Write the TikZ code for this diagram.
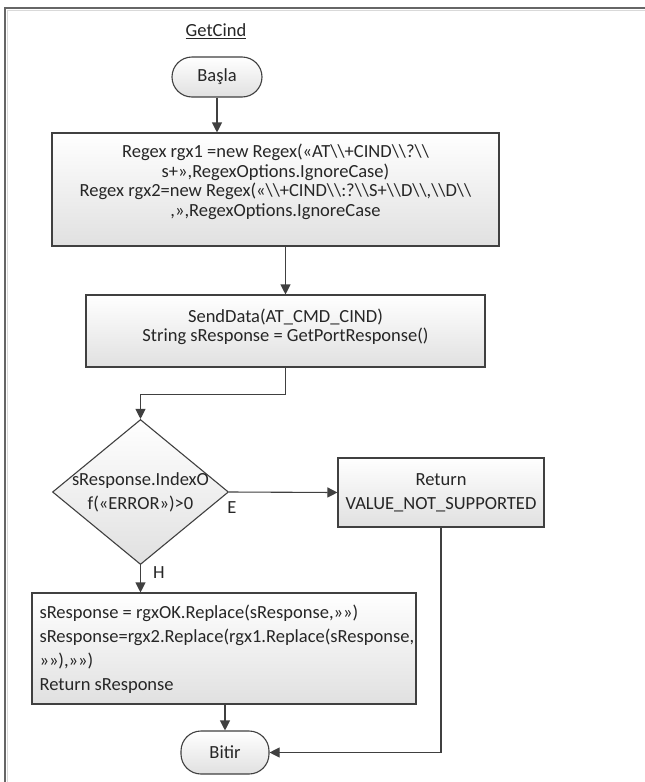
\documentclass[tikz,border=0pt]{standalone}
\usepackage{fontspec}
\setmainfont{Carlito}
\usetikzlibrary{arrows.meta,shapes.geometric}
\begin{document}
\begin{tikzpicture}[x=1pt,y=-1pt,
  every node/.style={font=\fontsize{18.5}{19.5}\selectfont, text=black!85},
  flowline/.style={draw=black!75, line width=1.1pt},
  arr/.style={flowline, -{Triangle[length=10pt,width=10pt]}},
  boxfill/.style={draw=black!75, line width=1.1pt, top color=white, bottom color=black!12},
  procbox/.style={boxfill, rectangle, inner sep=0pt, align=center},
  termbox/.style={boxfill, rectangle, rounded corners=20pt, inner sep=0pt},
  decision/.style={boxfill, diamond, inner sep=0pt},
  lbl/.style={font=\fontsize{18.5}{20}\selectfont}]
  % page area and frame
  \useasboundingbox (0,0) rectangle (645,782);
  \fill[white] (0,0) rectangle (645,782);
  \draw[black!60, line width=1.6pt] (5,800) -- (5,8) -- (660,8);
  \draw[black!15, line width=1pt] (7.5,800) -- (7.5,10.5) -- (660,10.5);

  % title
  \node (title) at (216,31) {\underline{GetCind}};

  % nodes
  \node[termbox, minimum width=90pt, minimum height=40pt] (start) at (217,77) {Başla};

  \node[procbox, minimum width=447pt, minimum height=113pt] (b1) at (275.5,189.5) {};
  \node[align=center] (t1) at (275.5,182) {Regex rgx1 =new Regex(«AT\textbackslash\textbackslash+CIND\textbackslash\textbackslash?\textbackslash\textbackslash\\
    s+»,RegexOptions.IgnoreCase)\\
    Regex rgx2=new Regex(«\textbackslash\textbackslash+CIND\textbackslash\textbackslash:?\textbackslash\textbackslash S+\textbackslash\textbackslash D\textbackslash\textbackslash,\textbackslash\textbackslash D\textbackslash\textbackslash\\
    ,»,RegexOptions.IgnoreCase};

  \node[procbox, minimum width=399pt, minimum height=72pt] (b2) at (285.5,331) {};
  \node[align=center] (t2) at (285.5,327) {SendData(AT\_CMD\_CIND)\\String sResponse = GetPortResponse()};

  \node[decision, minimum width=176pt, minimum height=145pt] (dec) at (140.5,492) {};
  \node[align=center, font=\fontsize{18.5}{24}\selectfont] (t3) at (140.5,492) {sResponse.IndexO\\f(«ERROR»)>0};

  \node[procbox, minimum width=206pt, minimum height=69pt, font=\fontsize{18.5}{24}\selectfont] (ret) at (441,492.5) {Return\\VALUE\_NOT\_SUPPORTED};

  \node[procbox, minimum width=384pt, minimum height=111pt] (b3) at (224,648.5) {};
  \node[align=left, anchor=west, font=\fontsize{18.5}{24}\selectfont] (t4) at (36,649) {sResponse = rgxOK.Replace(sResponse,»»)\\
    sResponse=rgx2.Replace(rgx1.Replace(sResponse,\\
    »»),»»)\\
    Return sResponse};

  \node[termbox, minimum width=88pt, minimum height=43pt] (stop) at (225,752.5) {Bitir};

  % connectors
  \draw[arr] (start.south) -- (start.south |- b1.north);
  \draw[arr] (b2.north |- b1.south) -- (b2.north);
  \draw[arr] (b2.south) -- ++(0,27) -| (dec.north);
  \draw[arr] (dec.east) -- (ret.west);
  \node[lbl] (labE) at (232,508) {E};
  \draw[arr] (dec.south) -- (dec.south |- b3.north);
  \node[lbl] (labH) at (159,573) {H};
  \draw[arr] (stop.north |- b3.south) -- (stop.north);
  \draw[arr] (ret.south) |- (stop.east);
\end{tikzpicture}
\end{document}
